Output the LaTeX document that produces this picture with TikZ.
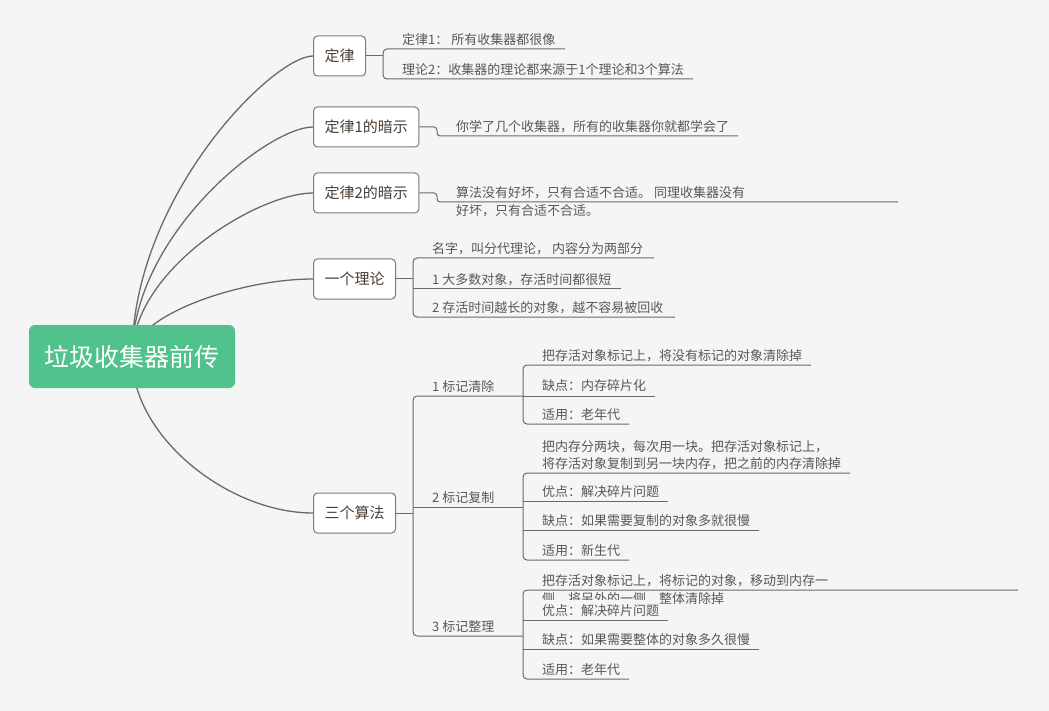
\documentclass[tikz,border=0pt]{standalone}
\usepackage{fontspec}
\setmainfont{Noto Sans CJK SC}
\definecolor{bgc}{HTML}{F5F5F5}
\definecolor{rootgreen}{HTML}{50C28C}
\definecolor{boxgray}{HTML}{7A7A7A}
\definecolor{topictext}{HTML}{4A3E34}
\definecolor{leaftext}{HTML}{585858}
\definecolor{linegray}{HTML}{6A6A6A}
\pgfdeclarelayer{back}
\pgfdeclarelayer{curves}
\pgfsetlayers{back,curves,main}
\begin{document}
\begin{tikzpicture}[x=1pt,y=-1pt,
  rootnode/.style={fill=rootgreen, rounded corners=6pt, text=white, font=\fontsize{25}{30}\selectfont, minimum width=206pt, minimum height=63pt, inner sep=0pt},
  topic/.style={draw=boxgray, line width=1pt, fill=white, rounded corners=4pt, text=topictext, font=\fontsize{15}{18}\selectfont, minimum height=40pt, inner xsep=11pt, inner ysep=0pt, anchor=west},
  leaf/.style={text=leaftext, font=\fontsize{13}{17.5}\selectfont, inner sep=0pt, anchor=base west, align=left},
  cv/.style={draw=linegray, line width=1.3pt},
  ln/.style={draw=linegray, line width=1pt},
  br/.style={ln, rounded corners=4pt}]
\begin{pgfonlayer}{back}
\fill[bgc] (0,0) rectangle (1049,711);
\end{pgfonlayer}
\useasboundingbox (0,0) rectangle (1049,711);

% root
\node[rootnode] (root) at (132,356.5) {垃圾收集器前传};

% topics
\node[topic] (t1) at (313,56) {定律};
\node[topic] (t2) at (313,127) {定律1的暗示};
\node[topic] (t3) at (313,193) {定律2的暗示};
\node[topic] (t4) at (313,279) {一个理论};
\node[topic] (t5) at (313,513) {三个算法};

\begin{pgfonlayer}{curves}
\draw[cv] (root.center) .. controls +(0,-160) and +(-40,0) .. (t1.west);
\draw[cv] (root.center) .. controls +(0,-122) and +(-45,0) .. (t2.west);
\draw[cv] (root.center) .. controls +(0,-87) and +(-55,0) .. (t3.west);
\draw[cv] (root.center) .. controls +(0,-40) and +(-75,0) .. (t4.west);
\draw[cv] (root.center) .. controls +(0,80) and +(-85,0) .. (t5.west);
\end{pgfonlayer}

% 定律
\node[leaf] (a1) at (402,45) {定律1：\ 所有收集器都很像};
\node[leaf] (a2) at (402,75) {理论2：收集器的理论都来源于1个理论和3个算法};
\coordinate (ka) at (383,56);
\draw[ln] (t1.east) -- (ka);
\draw[br] (565,49) -- (383,49) -- (383,79) -- (693,79);

% 定律1的暗示
\node[leaf] (b1) at (456,132) {你学了几个收集器，所有的收集器你就都学会了};
\draw[ln, rounded corners=3pt] (t2.east) -- (437,127) -- (437,136) -- (738,136);

% 定律2的暗示 (multi-line: base anchor is the last line)
\node[leaf, font=\fontsize{13}{18}\selectfont] (c1) at (456,216) {算法没有好坏，只有合适不合适。 同理收集器没有\\好坏，只有合适不合适。};
\draw[ln, rounded corners=3pt] (t3.east) -- (437,193) -- (437,202) -- (898,202);

% 一个理论
\node[leaf] (d1) at (432,253.5) {名字，叫分代理论，\ 内容分为两部分};
\node[leaf] (d2) at (432,284) {1 大多数对象，存活时间都很短};
\node[leaf] (d3) at (432,312.5) {2 存活时间越长的对象，越不容易被回收};
\coordinate (kd) at (413,279);
\draw[ln] (t4.east) -- (kd);
\draw[br] (654,258) -- (413,258) -- (413,317) -- (675,317);
\draw[ln] (413,289) -- (621,289);

% 三个算法
\coordinate (km) at (413,513);
\draw[ln] (t5.east) -- (km);
\node[leaf] (m1) at (432,391.5) {1 标记清除};
\node[leaf] (m2) at (432,502.5) {2 标记复制};
\node[leaf] (m3) at (432,631.5) {3 标记整理};
\draw[br] (523,396) -- (413,396) -- (413,636) -- (523,636);
\draw[ln] (413,507) -- (523,507);

% 1 标记清除
\node[leaf] (e1) at (542,360.5) {把存活对象标记上，将没有标记的对象清除掉};
\node[leaf] (e2) at (542,390.5) {缺点：内存碎片化};
\node[leaf] (e3) at (542,419.5) {适用：老年代};
\draw[br] (811,365) -- (523,365) -- (523,424) -- (629,424);
\draw[ln] (523,396) -- (655,396);

% 2 标记复制
\node[leaf] (f1) at (542,468.5) {把内存分两块，每次用一块。把存活对象标记上，\\将存活对象复制到另一块内存，把之前的内存清除掉};
\node[leaf] (f2) at (542,496.5) {优点：解决碎片问题};
\node[leaf] (f3) at (542,525.5) {缺点：如果需要复制的对象多就很慢};
\node[leaf] (f4) at (542,555.5) {适用：新生代};
\draw[br] (850,473) -- (523,473) -- (523,560) -- (629,560);
\draw[ln] (523,501) -- (668,501);
\draw[ln] (523,530) -- (759,530);

% 3 标记整理
\node[leaf] (g1) at (542,603) {把存活对象标记上，将标记的对象，移动到内存一\\侧，将另外的一侧，整体清除掉};
\node[leaf, fill=bgc, inner ysep=4.5pt] (g2) at (542,615.5) {优点：解决碎片问题};
\node[leaf] (g3) at (542,644.5) {缺点：如果需要整体的对象多久很慢};
\node[leaf] (g4) at (542,674.5) {适用：老年代};
\draw[br] (1018,590) -- (523,590) -- (523,679) -- (629,679);
\draw[ln] (523,620) -- (668,620);
\draw[ln] (523,649) -- (759,649);
\end{tikzpicture}
\end{document}
